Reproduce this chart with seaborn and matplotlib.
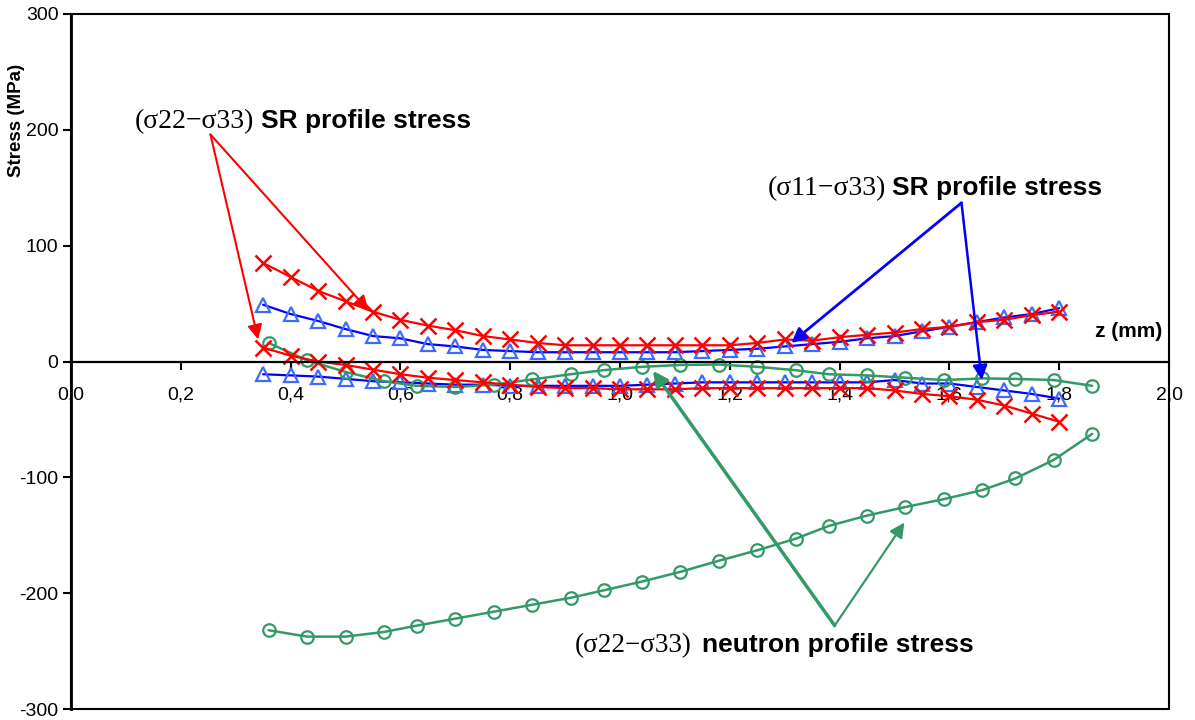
import numpy as np
import pandas as pd
import matplotlib
matplotlib.use("Agg")
import matplotlib.pyplot as plt
from matplotlib.patches import Rectangle
import seaborn as sns

# depth positions of the synchrotron (SR) profiles, mm
z_sr = [0.35, 0.40, 0.45, 0.50, 0.55, 0.60, 0.65, 0.70, 0.75, 0.80, 0.85, 0.90,
        0.95, 1.00, 1.05, 1.10, 1.15, 1.20, 1.25, 1.30, 1.35, 1.40, 1.45, 1.50,
        1.55, 1.60, 1.65, 1.70, 1.75, 1.80]

# (s22 - s33) SR profile stress, upper and lower branch (MPa)
sr22_upper = [85, 73, 61, 52, 43, 36, 31, 27, 22, 19, 16, 14, 14, 14, 14, 14,
              14, 14, 16, 19, 18, 21, 23, 25, 28, 30, 34, 36, 40, 43]
sr22_lower = [12, 5, 0, -3, -7, -11, -14, -16, -18, -20, -22, -23, -23, -24,
              -24, -24, -23, -23, -23, -23, -23, -23, -23, -25, -28, -30, -33,
              -38, -45, -52]

# (s11 - s33) SR profile stress, upper and lower branch (MPa)
sr11_upper = [49, 41, 35, 28, 22, 20, 15, 13, 10, 9, 8, 8, 8, 8, 8, 8, 9, 10,
              11, 13, 15, 17, 20, 22, 26, 30, 34, 38, 41, 46]
sr11_lower = [-11, -12, -13, -15, -17, -18, -19, -20, -20, -21, -21, -21, -21,
              -21, -20, -19, -18, -18, -18, -18, -18, -18, -18, -16, -19, -19,
              -22, -25, -28, -32]

# depth positions of the neutron profiles, mm
z_neutron = [0.36, 0.43, 0.50, 0.57, 0.63, 0.70, 0.77, 0.84, 0.91, 0.97, 1.04,
             1.11, 1.18, 1.25, 1.32, 1.38, 1.45, 1.52, 1.59, 1.66, 1.72, 1.79,
             1.86]

# (s22 - s33) neutron profile stress, upper and lower branch (MPa)
nt22_upper = [16, 1, -9, -17, -21, -22, -20, -15.5, -11, -7.5, -4.6, -3, -2.6,
              -4.6, -7.5, -11, -12, -14, -16, -14.6, -15, -16, -21]
nt22_lower = [-232, -237.5, -237.5, -233.5, -228, -222, -216, -210, -204,
              -197.6, -190, -181.6, -172, -163, -153, -142, -133, -125.6,
              -118.8, -111, -101, -85, -62.5]

x_ticks = [0.0, 0.2, 0.4, 0.6, 0.8, 1.0, 1.2, 1.4, 1.6, 1.8, 2.0]
x_tick_labels = ["0,0", "0,2", "0,4", "0,6", "0,8", "1,0", "1,2", "1,4",
                 "1,6", "1,8", "2,0"]
y_ticks = [-300, -200, -100, 0, 100, 200, 300]
y_tick_labels = ["-300", "-200", "-100", "0", "100", "200", "300"]

RED = "#FF0000"
BLUE_LINE = "#0000FF"
BLUE_MARK = "#3D6BFF"
GREEN = "#339966"

sns.set_theme(style="white")
plt.rcParams["font.family"] = ["Liberation Sans", "DejaVu Sans"]
plt.rcParams["text.color"] = "black"

W, H = 1195, 720
fig = plt.figure(figsize=(W / 100, H / 100), dpi=100)
ax = fig.add_axes([71 / W, 11 / H, (1169 - 71) / W, (709 - 14) / H])

sr = pd.DataFrame({"z": z_sr, "s22u": sr22_upper, "s22l": sr22_lower,
                   "s11u": sr11_upper, "s11l": sr11_lower})
nt = pd.DataFrame({"z": z_neutron, "up": nt22_upper, "lo": nt22_lower})

cross = dict(marker="x", markersize=11, markeredgewidth=1.8,
             markeredgecolor=RED, color=RED, linewidth=1.6)
tri = dict(marker="^", markersize=10, markeredgewidth=1.6,
           markeredgecolor=BLUE_MARK, markerfacecolor="none",
           color=BLUE_LINE, linewidth=1.6)
circ = dict(marker="o", markersize=9, markeredgewidth=1.6,
            markeredgecolor=GREEN, markerfacecolor="none",
            color=GREEN, linewidth=1.8)

for col in ["s11u", "s11l"]:
    sns.lineplot(data=sr, x="z", y=col, ax=ax, sort=False, estimator=None, **tri)
for col in ["up", "lo"]:
    sns.lineplot(data=nt, x="z", y=col, ax=ax, sort=False, estimator=None, **circ)
for col in ["s22u", "s22l"]:
    sns.lineplot(data=sr, x="z", y=col, ax=ax, sort=False, estimator=None, **cross)

ax.set_xlim(0, 2.0)
ax.set_ylim(-300, 300)
ax.set_xlabel("")
ax.set_ylabel("")
ax.set_xticks(x_ticks)
ax.set_xticklabels(x_tick_labels)
ax.set_yticks(y_ticks)
ax.set_yticklabels(y_tick_labels)
ax.grid(False)

# x axis runs through zero, frame drawn around the plot area
for side in ["top", "right"]:
    ax.spines[side].set_visible(False)
ax.spines["bottom"].set_position(("data", 0))
ax.spines["bottom"].set_color("black")
ax.spines["bottom"].set_linewidth(1.6)
ax.spines["left"].set_color("black")
ax.spines["left"].set_linewidth(2.0)
ax.add_patch(Rectangle((0, 0), 1, 1, transform=ax.transAxes, fill=False,
                       edgecolor="black", linewidth=1.5, clip_on=False,
                       zorder=5))

ax.tick_params(axis="y", direction="out", length=6, width=1.5, left=True,
               labelsize=14, pad=3, colors="black")
ax.tick_params(axis="x", direction="out", length=6, width=1.5, bottom=True,
               labelsize=14, pad=12, colors="black")

fig.text(17 / W, 1 - 120 / H, "Stress (MPa)", rotation=90, ha="center",
         va="center", fontsize=13.5, fontweight="bold", color="black")
ax.text(1.987, 26, "z (mm)", ha="right", va="center", fontsize=15,
        fontweight="bold", color="black")

serif = ["Liberation Serif", "DejaVu Serif"]


def label(px, py, sig, words, gap, sig_size, word_size):
    t = fig.text(px / W, 1 - py / H, sig, family=serif, fontsize=sig_size,
                 ha="left", va="baseline", color="black")
    fig.canvas.draw()
    bb = t.get_window_extent()
    fig.text((bb.x1 + gap) / W, 1 - py / H, words, fontsize=word_size,
             fontweight="bold", ha="left", va="baseline", color="black")


label(135, 128, "(\u03c322\u2212\u03c333)", "SR profile stress", 7, 20, 19)
label(768, 195, "(\u03c311\u2212\u03c333)", "SR profile stress", 6, 20, 19)
label(575, 652, "(\u03c322\u2212\u03c333)", "neutron profile stress", 10, 19.5, 19)


def arrow(start, tip, color, lw):
    ax.annotate("", xy=tip, xytext=start,
                arrowprops=dict(arrowstyle="-|>", color=color, lw=lw,
                                mutation_scale=22, shrinkA=0, shrinkB=0))


red_from = (0.254, 196)
arrow(red_from, (0.542, 44), RED, 1.5)
arrow(red_from, (0.341, 19), RED, 1.5)

blue_from = (1.622, 137)
arrow(blue_from, (1.312, 16), BLUE_LINE, 2.0)
arrow(blue_from, (1.659, -16), BLUE_LINE, 1.8)

green_from = (1.391, -228)
arrow(green_from, (1.060, -8), GREEN, 2.5)
arrow(green_from, (1.518, -139), GREEN, 1.6)

fig.savefig("out.png", dpi=100, facecolor="white")
